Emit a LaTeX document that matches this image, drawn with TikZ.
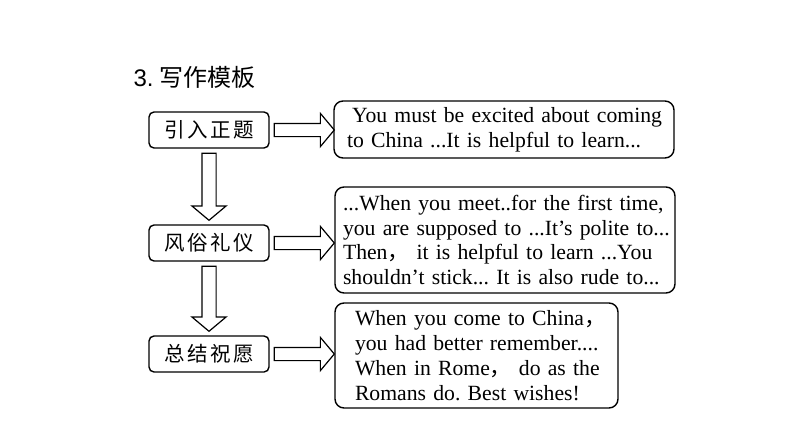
\documentclass[tikz,border=0pt]{standalone}
\usepackage{fontspec}
\setmainfont{Liberation Serif}
\newfontfamily\cjk{Noto Sans CJK SC}
\newfontfamily\cjkbox[LetterSpace=12]{Noto Sans CJK SC}
\newfontfamily\titlesans{Liberation Sans}
\usetikzlibrary{shapes.arrows}
\newcommand{\fc}{{\cjk ，}}
\frenchspacing

\begin{document}
\begin{tikzpicture}[x=1pt,y=-1pt,
  kbox/.style={draw, line width=1.4pt, rounded corners=5pt, minimum width=120pt,
    minimum height=36pt, inner sep=0pt, font=\cjkbox\fontsize{20.5}{22}\selectfont},
  tbox/.style={draw, line width=1.4pt, rounded corners=9pt, align=left,
    inner ysep=0pt, font=\fontsize{21.7}{24.8}\selectfont},
  rarrow/.style={single arrow, draw, line width=1.2pt, minimum height=60pt,
    single arrow head extend=10pt, single arrow tip angle=100,
    inner sep=0pt, anchor=tail},
  darrow/.style={rarrow, rotate=-90, minimum height=67pt}]
\useasboundingbox (0,0) rectangle (794,447);
%\draw[help lines] (0,0) grid[step=50pt] (794,447);
\node[anchor=west, font=\fontsize{24}{28}\selectfont] (title) at (130,77)
  {{\titlesans 3.} \cjk 写作模板};
% left column
\node[kbox] (intro) at (209,130) {引入正题};
\node[kbox] (custom) at (209,243) {风俗礼仪};
\node[kbox] (wish) at (209,354) {总结祝愿};
% right column
\node[tbox, inner xsep=13pt, text width=314pt, minimum height=57pt] (introtxt) at (504,129.5)
  {\mbox{\hspace*{5pt}You must be excited about coming}\\
   \mbox{to China ...It is helpful to learn...}};
\node[tbox, inner xsep=8pt, text width=324pt, minimum height=106pt] (customtxt) at (505,240)
  {\mbox{...When you meet..for the first time,}\\
   \mbox{you are supposed to ...It’s polite to...}\\
   \mbox{Then\fc\ it is helpful to learn ...You}\\
   \mbox{shouldn’t stick... It is also rude to...}};
\node[tbox, inner xsep=20pt, text width=243pt, minimum height=105pt] (wishtxt) at (476.5,355.5)
  {\mbox{When you come to China\fc}\\
   \mbox{you had better remember....}\\
   \mbox{When in Rome\fc\ do as the}\\
   \mbox{Romans do. Best wishes!}};
% block arrows
\node[rarrow] (a1) at ([xshift=4pt]intro.east) {\rule{0pt}{12pt}};
\node[rarrow] (a2) at ([xshift=4pt]custom.east) {\rule{0pt}{12pt}};
\node[rarrow] (a3) at ([xshift=4pt]wish.east) {\rule{0pt}{12pt}};
\node[darrow] (d1) at ([yshift=-4pt]intro.south) {\rule{0pt}{13pt}};
\node[darrow, minimum height=65pt] (d2) at ([yshift=-4pt]custom.south) {\rule{0pt}{13pt}};
\end{tikzpicture}
\end{document}
